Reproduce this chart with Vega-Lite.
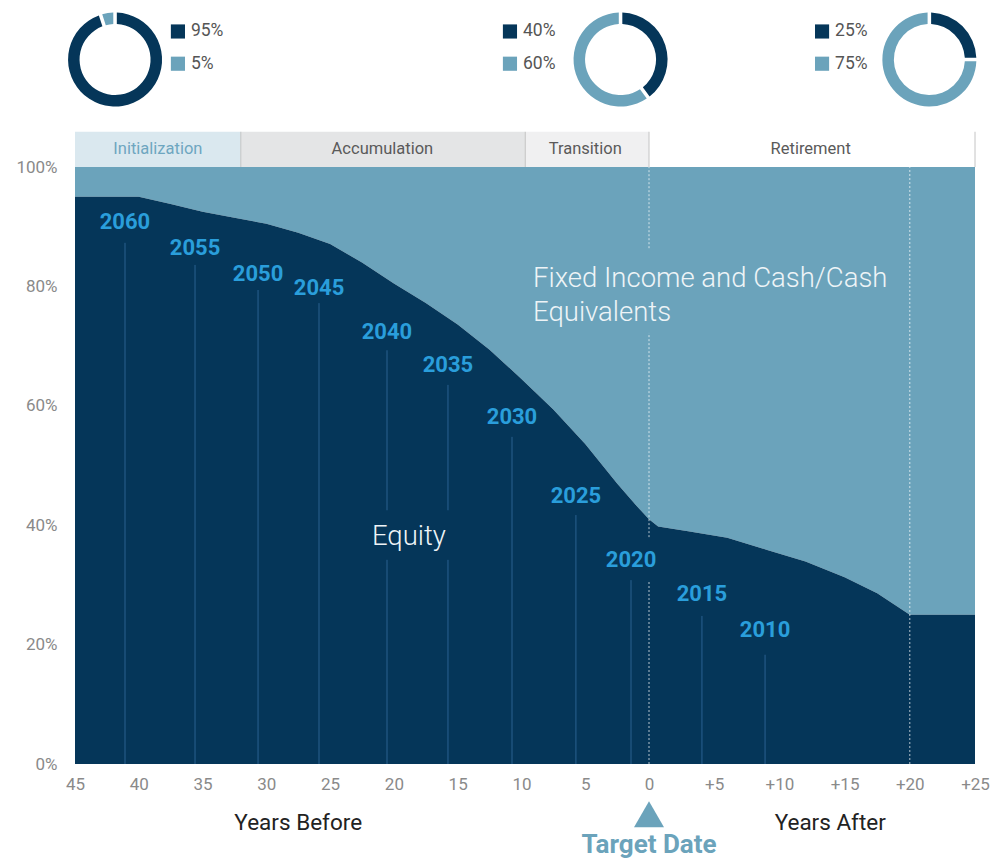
{
  "$schema": "https://vega.github.io/schema/vega-lite/v6.json",
  "width": 900,
  "height": 597,
  "autosize": {"type": "none"},
  "padding": {"left": 75, "top": 167, "right": 17, "bottom": 98},
  "background": "white",
  "config": {"view": {"stroke": null}, "font": "Roboto"},
  "datasets": {
    "glide": [
      {"years": -45, "equity": 95}, {"years": -40, "equity": 95}, {"years": -37.5, "equity": 93.8},
      {"years": -35, "equity": 92.5}, {"years": -32.5, "equity": 91.5}, {"years": -30, "equity": 90.5},
      {"years": -27.5, "equity": 89.0}, {"years": -25, "equity": 87.1}, {"years": -22.5, "equity": 84.0},
      {"years": -20, "equity": 80.5}, {"years": -17.5, "equity": 77.2}, {"years": -15, "equity": 73.6},
      {"years": -12.5, "equity": 69.4}, {"years": -10, "equity": 64.5}, {"years": -7.5, "equity": 59.4},
      {"years": -5, "equity": 53.6}, {"years": -2.5, "equity": 47.0}, {"years": -1, "equity": 43.3},
      {"years": 0, "equity": 41.0}, {"years": 0.7, "equity": 39.8}, {"years": 3, "equity": 39.0},
      {"years": 6, "equity": 37.9}, {"years": 9, "equity": 35.9}, {"years": 12, "equity": 33.9},
      {"years": 15, "equity": 31.3}, {"years": 17.5, "equity": 28.6}, {"years": 20, "equity": 25},
      {"years": 25, "equity": 25}
    ],
    "vlines": [
      {"vintage": "2060", "years": -41.08, "from": 0, "to": 87.3},
      {"vintage": "2055", "years": -35.59, "from": 0, "to": 83.6},
      {"vintage": "2050", "years": -30.65, "from": 0, "to": 79.4},
      {"vintage": "2045", "years": -25.87, "from": 0, "to": 77.2},
      {"vintage": "2040", "years": -20.54, "from": 0, "to": 34.2},
      {"vintage": "2040", "years": -20.54, "from": 42.5, "to": 69.3},
      {"vintage": "2035", "years": -15.76, "from": 0, "to": 34.2},
      {"vintage": "2035", "years": -15.76, "from": 42.5, "to": 63.5},
      {"vintage": "2030", "years": -10.74, "from": 0, "to": 54.8},
      {"vintage": "2025", "years": -5.73, "from": 0, "to": 41.7},
      {"vintage": "2020", "years": -1.41, "from": 0, "to": 30.8},
      {"vintage": "2015", "years": 4.06, "from": 0, "to": 24.8},
      {"vintage": "2010", "years": 8.9, "from": 0, "to": 18.3}
    ],
    "vintages": [
      {"vintage": "2060", "years": -41.08, "pct": 90.8},
      {"vintage": "2055", "years": -35.59, "pct": 86.4},
      {"vintage": "2050", "years": -30.65, "pct": 82.1},
      {"vintage": "2045", "years": -25.87, "pct": 79.7},
      {"vintage": "2040", "years": -20.54, "pct": 72.4},
      {"vintage": "2035", "years": -15.76, "pct": 66.8},
      {"vintage": "2030", "years": -10.74, "pct": 58.1},
      {"vintage": "2025", "years": -5.73, "pct": 44.9},
      {"vintage": "2020", "years": -1.41, "pct": 34.2},
      {"vintage": "2015", "years": 4.06, "pct": 28.5},
      {"vintage": "2010", "years": 8.9, "pct": 22.4}
    ],
    "dashes": [
      {"years": 0, "from": 86.4, "to": 100},
      {"years": 0, "from": 38.0, "to": 72.2},
      {"years": 0, "from": 0, "to": 30.8},
      {"years": 20, "from": 0, "to": 100}
    ],
    "regionLabels": [
      {"label": "Equity", "years": -21.72, "pct": 36.7},
      {"label": "Fixed Income and Cash/Cash\nEquivalents", "years": -9.09, "pct": 79.9}
    ],
    "phases": [
      {"phase": "Initialization", "start": -45, "end": -32, "mid": -38.5},
      {"phase": "Accumulation", "start": -32, "end": -9.7, "mid": -20.9},
      {"phase": "Transition", "start": -9.7, "end": 0, "mid": -5.0},
      {"phase": "Retirement", "start": 0, "end": 25, "mid": 12.4}
    ],
    "donuts": [
      {"donut": "Start", "at": -41.86, "asset": "Equity", "from": 0, "to": 95},
      {"donut": "Start", "at": -41.86, "asset": "Fixed Income", "from": 95, "to": 100},
      {"donut": "Target", "at": -2.23, "asset": "Equity", "from": 0, "to": 40},
      {"donut": "Target", "at": -2.23, "asset": "Fixed Income", "from": 40, "to": 100},
      {"donut": "End", "at": 21.5, "asset": "Equity", "from": 0, "to": 25},
      {"donut": "End", "at": 21.5, "asset": "Fixed Income", "from": 25, "to": 100}
    ],
    "legend": [
      {"donut": "Start", "asset": "Equity", "label": "95%", "key_at": -36.93, "key_y": 122.7},
      {"donut": "Start", "asset": "Fixed Income", "label": "5%", "key_at": -36.93, "key_y": 117.3},
      {"donut": "Target", "asset": "Equity", "label": "40%", "key_at": -10.9, "key_y": 122.7},
      {"donut": "Target", "asset": "Fixed Income", "label": "60%", "key_at": -10.9, "key_y": 117.3},
      {"donut": "End", "asset": "Equity", "label": "25%", "key_at": 13.27, "key_y": 122.7},
      {"donut": "End", "asset": "Fixed Income", "label": "75%", "key_at": 13.27, "key_y": 117.3}
    ],
    "axisTitles": [
      {"label": "Years Before", "years": -27.5},
      {"label": "Years After", "years": 13.9}
    ],
    "target": [{"label": "Target Date", "years": 0}]
  },
  "layer": [
    {
      "data": {"name": "glide"},
      "mark": {"type": "area", "color": "#6ba3bb", "interpolate": "linear"},
      "encoding": {
        "x": {"field": "years", "type": "quantitative", "title": null,
          "scale": {"domain": [-45, 0, 25], "range": [0, 574, 900], "nice": false, "zero": false},
          "axis": {"values": [-45, -40, -35, -30, -25, -20, -15, -10, -5, 0, 5, 10, 15, 20, 25],
            "labelExpr": "datum.value < 0 ? '' + (-datum.value) : (datum.value > 0 ? '+' + datum.value : '0')",
            "ticks": false, "domain": false, "grid": false, "labelFont": "Roboto", "labelFontSize": 17,
            "labelColor": "#8a8a8a", "labelPadding": 12, "labelFlush": false, "labelOverlap": false}},
        "y": {"field": "equity", "type": "quantitative", "title": null,
          "scale": {"domain": [0, 100], "nice": false, "zero": false},
          "axis": {"values": [0, 20, 40, 60, 80, 100], "labelExpr": "datum.value + '%'",
            "ticks": false, "domain": false, "grid": false, "labelFont": "Roboto", "labelFontSize": 17,
            "labelColor": "#8a8a8a", "labelPadding": 18, "labelFlush": false, "labelOverlap": false}},
        "y2": {"datum": 100}
      }
    },
    {
      "data": {"name": "glide"},
      "mark": {"type": "area", "color": "#053659", "interpolate": "linear"},
      "encoding": {
        "x": {"field": "years", "type": "quantitative", "title": null, "scale": {"domain": [-45, 0, 25], "range": [0, 574, 900], "nice": false, "zero": false}},
        "y": {"field": "equity", "type": "quantitative", "title": null, "stack": null, "scale": {"domain": [0, 100], "nice": false, "zero": false}}
      }
    },
    {
      "data": {"name": "vlines"},
      "mark": {"type": "rule", "color": "#2a6190", "strokeWidth": 1},
      "encoding": {
        "x": {"field": "years", "type": "quantitative", "title": null, "scale": {"domain": [-45, 0, 25], "range": [0, 574, 900], "nice": false, "zero": false}},
        "y": {"field": "from", "type": "quantitative", "title": null, "scale": {"domain": [0, 100], "nice": false, "zero": false}},
        "y2": {"field": "to"}
      }
    },
    {
      "data": {"name": "vintages"},
      "mark": {"type": "text", "font": "Roboto", "fontWeight": "bold", "fontSize": 22, "color": "#2a9edb", "align": "center", "baseline": "middle"},
      "encoding": {
        "x": {"field": "years", "type": "quantitative", "title": null, "scale": {"domain": [-45, 0, 25], "range": [0, 574, 900], "nice": false, "zero": false}},
        "y": {"field": "pct", "type": "quantitative", "title": null, "scale": {"domain": [0, 100], "nice": false, "zero": false}},
        "text": {"field": "vintage", "type": "nominal"}
      }
    },
    {
      "data": {"name": "dashes"},
      "mark": {"type": "rule", "color": "#ffffff", "opacity": 0.7, "strokeWidth": 1, "strokeDash": [2, 2]},
      "encoding": {
        "x": {"field": "years", "type": "quantitative", "title": null, "scale": {"domain": [-45, 0, 25], "range": [0, 574, 900], "nice": false, "zero": false}},
        "y": {"field": "from", "type": "quantitative", "title": null, "scale": {"domain": [0, 100], "nice": false, "zero": false}},
        "y2": {"field": "to"}
      }
    },
    {
      "data": {"name": "regionLabels"},
      "mark": {"type": "text", "font": "Roboto", "fontWeight": 300, "fontSize": 27.5, "color": "#eef4f7", "align": "left", "baseline": "alphabetic", "lineBreak": "\n", "lineHeight": 34},
      "encoding": {
        "x": {"field": "years", "type": "quantitative", "title": null, "scale": {"domain": [-45, 0, 25], "range": [0, 574, 900], "nice": false, "zero": false}},
        "y": {"field": "pct", "type": "quantitative", "title": null, "scale": {"domain": [0, 100], "nice": false, "zero": false}},
        "text": {"field": "label", "type": "nominal"}
      }
    },
    {
      "data": {"name": "phases"},
      "mark": {"type": "rect"},
      "encoding": {
        "x": {"field": "start", "type": "quantitative", "title": null, "scale": {"domain": [-45, 0, 25], "range": [0, 574, 900], "nice": false, "zero": false}},
        "x2": {"field": "end"},
        "y": {"datum": 100, "type": "quantitative", "scale": {"domain": [0, 100], "nice": false, "zero": false}},
        "y2": {"datum": 105.9},
        "color": {"condition": [
          {"test": "datum.phase === 'Initialization'", "value": "#dae8ef"},
          {"test": "datum.phase === 'Accumulation'", "value": "#e4e5e6"},
          {"test": "datum.phase === 'Transition'", "value": "#f0f0f1"}
        ], "value": "#ffffff"}
      }
    },
    {
      "data": {"name": "phases"},
      "mark": {"type": "rule", "color": "#c4c4c4", "strokeWidth": 1},
      "encoding": {
        "x": {"field": "end", "type": "quantitative", "title": null, "scale": {"domain": [-45, 0, 25], "range": [0, 574, 900], "nice": false, "zero": false}},
        "y": {"datum": 100, "type": "quantitative", "scale": {"domain": [0, 100], "nice": false, "zero": false}},
        "y2": {"datum": 105.9}
      }
    },
    {
      "data": {"name": "phases"},
      "mark": {"type": "text", "font": "Roboto", "fontSize": 16.5, "align": "center", "baseline": "middle"},
      "encoding": {
        "x": {"field": "mid", "type": "quantitative", "title": null, "scale": {"domain": [-45, 0, 25], "range": [0, 574, 900], "nice": false, "zero": false}},
        "y": {"datum": 103, "type": "quantitative", "scale": {"domain": [0, 100], "nice": false, "zero": false}},
        "text": {"field": "phase", "type": "nominal"},
        "color": {"condition": {"test": "datum.phase === 'Initialization'", "value": "#6ea6c0"}, "value": "#5a5a5a"}
      }
    },
    {
      "data": {"name": "donuts"},
      "mark": {"type": "arc", "outerRadius": 47, "innerRadius": 35.5, "padAngle": 0.06},
      "encoding": {
        "x": {"field": "at", "type": "quantitative", "title": null, "stack": null, "scale": {"domain": [-45, 0, 25], "range": [0, 574, 900], "nice": false, "zero": false}},
        "y": {"datum": 118, "type": "quantitative", "scale": {"domain": [0, 100], "nice": false, "zero": false}},
        "theta": {"field": "from", "type": "quantitative", "stack": null, "scale": {"domain": [0, 100], "range": [0, 6.283185307]}},
        "theta2": {"field": "to"},
        "color": {"condition": {"test": "datum.asset === 'Equity'", "value": "#053659"}, "value": "#6ba3bb"}
      }
    },
    {
      "data": {"name": "legend"},
      "mark": {"type": "point", "shape": "square", "filled": true, "size": 200, "opacity": 1},
      "encoding": {
        "x": {"field": "key_at", "type": "quantitative", "title": null, "stack": null, "scale": {"domain": [-45, 0, 25], "range": [0, 574, 900], "nice": false, "zero": false}},
        "y": {"field": "key_y", "type": "quantitative", "title": null, "scale": {"domain": [0, 100], "nice": false, "zero": false}},
        "color": {"condition": {"test": "datum.asset === 'Equity'", "value": "#053659"}, "value": "#6ba3bb"}
      }
    },
    {
      "data": {"name": "legend"},
      "mark": {"type": "text", "font": "Roboto", "fontSize": 17.5, "color": "#555555", "align": "left", "baseline": "middle", "dx": 13},
      "encoding": {
        "x": {"field": "key_at", "type": "quantitative", "title": null, "scale": {"domain": [-45, 0, 25], "range": [0, 574, 900], "nice": false, "zero": false}},
        "y": {"field": "key_y", "type": "quantitative", "title": null, "scale": {"domain": [0, 100], "nice": false, "zero": false}},
        "text": {"field": "label", "type": "nominal"}
      }
    },
    {
      "data": {"name": "axisTitles"},
      "mark": {"type": "text", "font": "Roboto", "fontSize": 22.5, "color": "#222222", "align": "center", "baseline": "middle"},
      "encoding": {
        "x": {"field": "years", "type": "quantitative", "title": null, "scale": {"domain": [-45, 0, 25], "range": [0, 574, 900], "nice": false, "zero": false}},
        "y": {"datum": -9.9, "type": "quantitative", "scale": {"domain": [0, 100], "nice": false, "zero": false}},
        "text": {"field": "label", "type": "nominal"}
      }
    },
    {
      "data": {"name": "target"},
      "mark": {"type": "point", "shape": "triangle-up", "filled": true, "size": 900, "color": "#6ba3bb", "opacity": 1},
      "encoding": {
        "x": {"field": "years", "type": "quantitative", "title": null, "stack": null, "scale": {"domain": [-45, 0, 25], "range": [0, 574, 900], "nice": false, "zero": false}},
        "y": {"datum": -8.4, "type": "quantitative", "scale": {"domain": [0, 100], "nice": false, "zero": false}}
      }
    },
    {
      "data": {"name": "target"},
      "mark": {"type": "text", "font": "Roboto", "fontWeight": "bold", "fontSize": 26, "color": "#6ba3bb", "align": "center", "baseline": "middle"},
      "encoding": {
        "x": {"field": "years", "type": "quantitative", "title": null, "scale": {"domain": [-45, 0, 25], "range": [0, 574, 900], "nice": false, "zero": false}},
        "y": {"datum": -13.6, "type": "quantitative", "scale": {"domain": [0, 100], "nice": false, "zero": false}},
        "text": {"field": "label", "type": "nominal"}
      }
    }
  ]
}
